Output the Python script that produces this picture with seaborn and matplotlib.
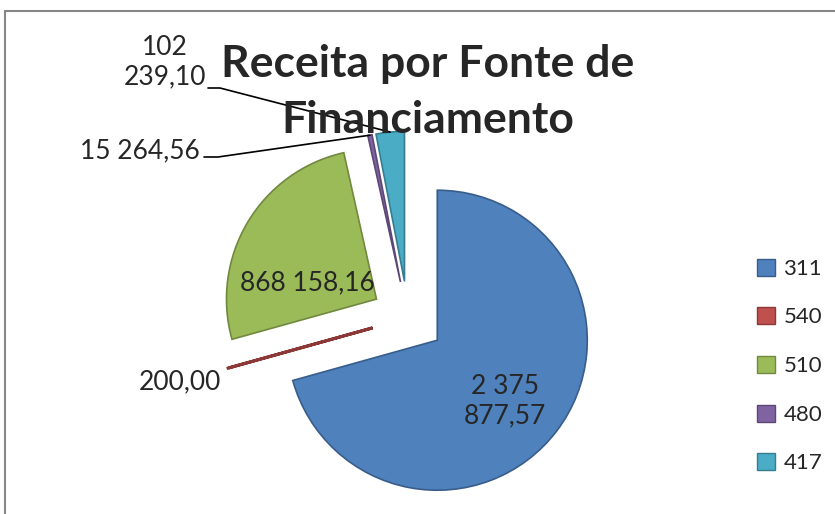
import numpy as np
import seaborn as sns
import matplotlib.pyplot as plt
import matplotlib.patches as mpatches

# dados
fontes = ["311", "540", "510", "480", "417"]
receita = [2375877.57, 200.00, 868158.16, 15264.56, 102239.10]
cores = ["#4F81BD", "#C0504D", "#9BBB59", "#8064A2", "#4BACC6"]
bordas = ["#385D8A", "#8C3836", "#71893F", "#5C4776", "#357D91"]


def fmt_pt(v, quebra=False):
    s = "{:,.2f}".format(v).replace(",", " ").replace(".", ",")
    if quebra:
        i = s.rfind(" ")
        s = s[:i] + "\n" + s[i + 1:]
    return s


sns.set_style("white")
plt.rcParams["font.family"] = ["Lato", "DejaVu Sans"]

fig = plt.figure(figsize=(8.35, 5.14), dpi=100)
ax = fig.add_axes([0, 0, 1, 1])
H = 514
R = 150

# explode em pt é absoluto (unidades de dados) -> 24,5% do raio
wedges, _ = ax.pie(receita, colors=cores, startangle=90, counterclock=False,
                   explode=[0.245 * R] * len(receita), radius=R, center=(408, H - 318),
                   wedgeprops=dict(linewidth=1.2), frame=True)
for w, b in zip(wedges, bordas):
    w.set_edgecolor(b)
wedges[1].set_linewidth(2.2)

ax.set_xlim(0, 835)
ax.set_ylim(0, H)
ax.axis("off")


def ponto(w, frac=1.0):
    th = np.deg2rad((w.theta1 + w.theta2) / 2)
    cx, cy = w.center
    return cx + frac * w.r * np.cos(th), cy + frac * w.r * np.sin(th)


fs = 19
# rótulos internos
ax.text(505, H - 401, fmt_pt(receita[0], True), ha="center", va="center",
        fontsize=fs, linespacing=1.25)
ax.text(307, H - 283, fmt_pt(receita[2]), ha="center", va="center", fontsize=fs)

# 540
ax.text(221, H - 382, fmt_pt(receita[1]), ha="right", va="center", fontsize=fs)

# 480 com linha guia
x1, y1 = ponto(wedges[3])
ax.plot([204, 218, x1], [H - 157, H - 157, y1], color="black", lw=1.2)
ax.text(200, H - 151, fmt_pt(receita[3]), ha="right", va="center", fontsize=fs)

# 417 com linha guia
x2, y2 = ponto(wedges[4])
ax.plot([208, 220, x2], [H - 88, H - 88, y2], color="black", lw=1.2)
ax.text(165, H - 62, fmt_pt(receita[4], True), ha="center", va="center",
        fontsize=fs, linespacing=1.2)

# título
ax.text(428, H - 92, "Receita por Fonte de\nFinanciamento", ha="center", va="center",
        fontsize=32, fontweight="bold", linespacing=1.5)

# moldura
ax.add_patch(mpatches.Rectangle((5, -20), 900, H - 11 + 20, fill=False,
                                edgecolor="#868686", lw=1.5, clip_on=False))

handles = [mpatches.Patch(facecolor=c, edgecolor=b, label=f) for f, c, b in zip(fontes, cores, bordas)]
fig.legend(handles=handles, loc="center left", bbox_to_anchor=(0.893, 0.288),
           frameon=False, fontsize=16, handlelength=0.8, handleheight=0.8,
           handletextpad=0.4, labelspacing=1.28, borderpad=0)

fig.savefig("out.png", dpi=100)
